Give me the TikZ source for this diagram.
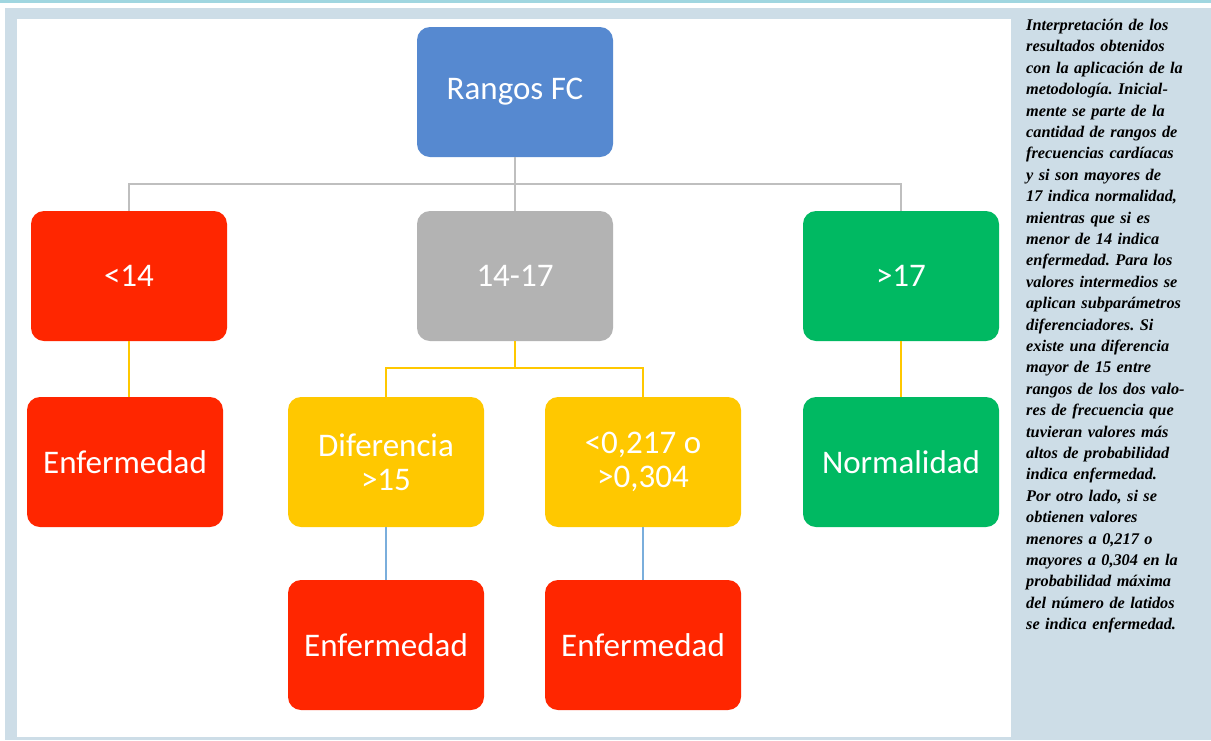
\documentclass[tikz,border=0pt]{standalone}
\usepackage{fontspec}
\setmainfont{Liberation Serif}
\newfontfamily\boxfont{Carlito}
\usetikzlibrary{calc}
\frenchspacing
\definecolor{TopClr}{RGB}{160,214,224}
\definecolor{PanelClr}{RGB}{205,221,231}
\definecolor{RootClr}{RGB}{86,137,208}
\definecolor{SickClr}{RGB}{255,38,0}
\definecolor{MidClr}{RGB}{179,179,179}
\definecolor{OkClr}{RGB}{0,185,98}
\definecolor{SubClr}{RGB}{255,200,0}
\definecolor{GrayLineClr}{RGB}{191,191,191}
\definecolor{BlueLineClr}{RGB}{122,174,220}

\begin{document}
\begin{tikzpicture}[x=1pt,y=-1pt,
  box/.style={rounded corners=13pt,minimum width=196pt,minimum height=130pt,
    inner sep=0pt,text=white,align=center,font=\boxfont\fontsize{33}{34}\selectfont},
  grayline/.style={draw=GrayLineClr,line width=2pt},
  yellowline/.style={draw=SubClr,line width=2pt},
  blueline/.style={draw=BlueLineClr,line width=1.5pt}]
\useasboundingbox (0,0) rectangle (1211,740);

\fill[TopClr] (0,0) rectangle (1211,2.5);
\fill[PanelClr] (5,8) rectangle (1211,740);
\fill[white] (17,19) rectangle (1011,737);

\node[box,fill=RootClr] (rangos) at (515,92) {Rangos FC};
\node[box,fill=SickClr] (low) at (129,276) {<14};
\node[box,fill=MidClr] (mid) at (515,276) {14-17};
\node[box,fill=OkClr] (high) at (901,276) {>17};

\node[box,fill=SickClr] (enfA) at (125,462) {Enfermedad};
\node[box,fill=SubClr] (dif) at (386,462) {Diferencia\\>15};
\node[box,fill=SubClr] (prob) at (643,462) {<0,217 o\\>0,304};
\node[box,fill=OkClr] (normal) at (901,462) {Normalidad};

\node[box,fill=SickClr] (enfB) at (386,645) {Enfermedad};
\node[box,fill=SickClr] (enfC) at (643,645) {Enfermedad};

\draw[grayline] (rangos.south) -- ++(0,27) coordinate (split);
\draw[grayline] (low.north) |- (split) -| (high.north);
\draw[grayline] (split) -- (mid.north);

\draw[yellowline] (low.south) -- (low.south |- enfA.north);
\draw[yellowline] (mid.south) -- ++(0,27) coordinate (subsplit);
\draw[yellowline] (dif.north) |- (subsplit) -| (prob.north);
\draw[yellowline] (high.south) -- (normal.north);

\draw[blueline] (dif.south) -- (enfB.north);
\draw[blueline] (prob.south) -- (enfC.north);

\node[anchor=north west,inner sep=0pt,text width=184pt,align=left,
  font=\fontsize{16.3}{21.4}\selectfont\bfseries\itshape] (nota) at (1026,19)
  {Interpretación de los\\
   resultados obtenidos\\
   con la aplicación de la\\
   metodología. Inicial-\\
   mente se parte de la\\
   cantidad de rangos de\\
   frecuencias cardíacas\\
   y si son mayores de\\
   17 indica normalidad,\\
   mientras que si es\\
   menor de 14 indica\\
   enfermedad. Para los\\
   valores intermedios se\\
   aplican subparámetros\\
   diferenciadores. Si\\
   existe una diferencia\\
   mayor de 15 entre\\
   rangos de los dos valo-\\
   res de frecuencia que\\
   tuvieran valores más\\
   altos de probabilidad\\
   indica enfermedad.\\
   Por otro lado, si se\\
   obtienen valores\\
   menores a 0,217 o\\
   mayores a 0,304 en la\\
   probabilidad máxima\\
   del número de latidos\\
   se indica enfermedad.};
\end{tikzpicture}
\end{document}
